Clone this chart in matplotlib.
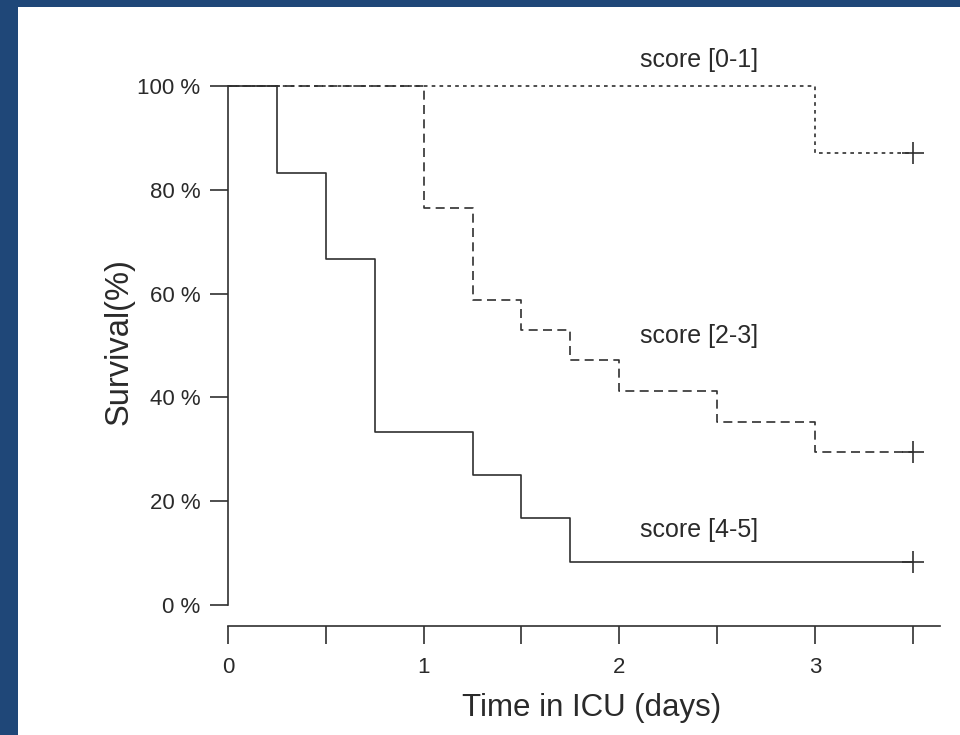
import numpy as np
import matplotlib
matplotlib.use('Agg')
from matplotlib import pyplot as plt
from matplotlib.patches import Rectangle
from matplotlib.ticker import FuncFormatter

plt.rcParams['font.family'] = ['Liberation Sans', 'DejaVu Sans']

# Kaplan-Meier curves, time in days / survival in %
t_low = [0.0, 3.0, 3.5]
s_low = [100.0, 87.0, 87.0]

t_mid = [0.0, 1.0, 1.25, 1.5, 1.75, 2.0, 2.5, 3.0, 3.5]
s_mid = [100.0, 76.5, 58.8, 52.9, 47.1, 41.2, 35.3, 29.4, 29.4]

t_high = [0.0, 0.25, 0.5, 0.75, 1.25, 1.5, 1.75, 3.5]
s_high = [100.0, 83.3, 66.7, 33.3, 25.0, 16.7, 8.3, 8.3]

labels = ['score [0-1]', 'score [2-3]', 'score [4-5]']
label_pos = [(2.41, 105.0), (2.41, 51.8), (2.41, 14.5)]

yticks = [0, 20, 40, 60, 80, 100]
xticks = [0, 0.5, 1, 1.5, 2, 2.5, 3, 3.5]

col = '#303030'
txt = '#2a2a2a'
blue = '#1f4778'

fig = plt.figure(figsize=(9.6, 7.35), dpi=100, facecolor='white')
# blue frame strips (left and top)
fig.patches.append(Rectangle((0, 0), 18/960, 1, transform=fig.transFigure,
                             facecolor=blue, edgecolor='none'))
fig.patches.append(Rectangle((0, (735-7)/735), 1, 7/735, transform=fig.transFigure,
                             facecolor=blue, edgecolor='none'))

ax = fig.add_axes([228/960, (735-626)/735, (940-228)/960, (626-34)/735])
ax.set_facecolor('none')

# dotted, dashed, solid (solid on top)
ax.step(t_low, s_low, where='post', color=col, lw=1.2, linestyle=(0, (2.2, 2.5)), zorder=2)
ax.step(t_mid, s_mid, where='post', color=col, lw=1.2, linestyle=(0, (5.4, 3.2)), zorder=3)
ax.step(t_high, s_high, where='post', color=col, lw=1.2, zorder=4)

# censoring marks
for t, s in [(t_low, s_low), (t_mid, s_mid), (t_high, s_high)]:
    ax.plot(t[-1], s[-1], marker='+', markersize=16, mew=1.2, color=col, clip_on=False, zorder=5)

for lab, (x, y) in zip(labels, label_pos):
    ax.text(x, y, lab, fontsize=18, color=txt, ha='center', va='center', clip_on=False)

ax.set_xlim(0, 3.64)
ax.set_ylim(-4.05, 110)

for side in ['top', 'right']:
    ax.spines[side].set_visible(False)
ax.spines['left'].set_bounds(0, 100)
ax.spines['bottom'].set_bounds(0, 3.64)
for side in ['left', 'bottom']:
    ax.spines[side].set_color(col)
    ax.spines[side].set_linewidth(1.2)

ax.set_yticks(yticks)
ax.set_yticklabels(['%d %%' % v for v in yticks])
ax.set_xticks(xticks)
ax.xaxis.set_major_formatter(FuncFormatter(lambda v, p: '%d' % v if abs(v - round(v)) < 1e-9 else ''))
ax.tick_params(axis='both', colors=col, labelcolor=txt, width=1.2, length=13, labelsize=16)
ax.tick_params(axis='y', pad=7)
ax.tick_params(axis='x', pad=9)

ax.set_xlabel('Time in ICU (days)', fontsize=22.5, color=txt)
ax.set_ylabel('Survival(%)', fontsize=23.5, color=txt)
ax.xaxis.set_label_coords(0.511, -0.114)
ax.yaxis.set_label_coords(-0.131, 0.481)

fig.savefig('out.png', dpi=100, facecolor=fig.get_facecolor())
